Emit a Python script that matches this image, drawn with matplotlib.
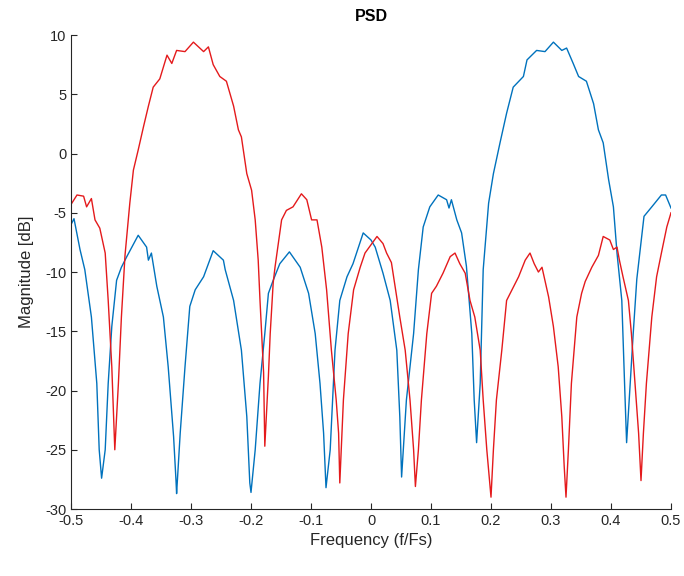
import matplotlib
matplotlib.use("Agg")
import matplotlib.pyplot as plt

# values (frequency f/Fs, magnitude dB)
blue_f = [-0.5, -0.495, -0.485, -0.477, -0.466, -0.457, -0.453, -0.449, -0.443, -0.438,
          -0.432, -0.424, -0.416, -0.407, -0.388, -0.374, -0.371, -0.366, -0.357, -0.346,
          -0.338, -0.329, -0.325, -0.324, -0.318, -0.31, -0.302, -0.293, -0.279, -0.263,
          -0.246, -0.243, -0.229, -0.216, -0.207, -0.202, -0.2, -0.193, -0.185, -0.177,
          -0.171, -0.163, -0.152, -0.136, -0.118, -0.104, -0.093, -0.085, -0.079, -0.075,
          -0.068, -0.06, -0.052, -0.04, -0.03, -0.013, 0.0, 0.007, 0.02, 0.032,
          0.043, 0.048, 0.051, 0.059, 0.071, 0.079, 0.087, 0.098, 0.112, 0.126,
          0.13, 0.134, 0.143, 0.151, 0.159, 0.168, 0.172, 0.176, 0.182, 0.187,
          0.196, 0.204, 0.215, 0.226, 0.237, 0.254, 0.26, 0.276, 0.29, 0.304,
          0.318, 0.326, 0.337, 0.346, 0.359, 0.371, 0.379, 0.387, 0.396, 0.404,
          0.41, 0.418, 0.423, 0.426, 0.432, 0.437, 0.443, 0.455, 0.468, 0.484,
          0.491, 0.5]
blue_db = [-6.0, -5.5, -8.1, -9.8, -13.8, -19.4, -25.0, -27.4, -25.0, -19.4,
           -14.6, -10.7, -9.6, -8.7, -6.9, -7.9, -9.0, -8.4, -11.2, -13.8,
           -18.0, -23.9, -27.6, -28.7, -23.6, -18.0, -12.9, -11.5, -10.4, -8.2,
           -9.0, -9.8, -12.4, -16.6, -22.2, -27.8, -28.6, -25.0, -19.4, -15.2,
           -11.8, -10.7, -9.3, -8.3, -9.6, -11.8, -15.2, -19.4, -23.6, -28.2,
           -25.0, -16.6, -12.4, -10.4, -9.3, -6.7, -7.3, -7.9, -10.1, -12.4,
           -16.6, -22.2, -27.3, -20.8, -15.2, -9.8, -6.2, -4.5, -3.5, -3.9,
           -4.6, -3.9, -5.6, -6.7, -9.5, -15.2, -20.8, -24.4, -19.4, -9.8,
           -4.2, -1.7, 0.9, 3.4, 5.6, 6.5, 7.9, 8.7, 8.6, 9.4,
           8.7, 8.9, 7.6, 6.5, 6.1, 4.2, 2.0, 0.9, -2.2, -4.5,
           -8.4, -12.4, -20.0, -24.4, -19.4, -15.2, -10.6, -5.3, -4.5, -3.5,
           -3.5, -4.6]

red_f = [-0.5, -0.49, -0.479, -0.474, -0.466, -0.46, -0.452, -0.443, -0.438, -0.432,
         -0.427, -0.421, -0.416, -0.41, -0.402, -0.396, -0.388, -0.379, -0.371, -0.363,
         -0.352, -0.34, -0.332, -0.324, -0.31, -0.296, -0.279, -0.271, -0.263, -0.252,
         -0.241, -0.229, -0.221, -0.216, -0.207, -0.199, -0.193, -0.188, -0.185, -0.179,
         -0.177, -0.171, -0.168, -0.163, -0.16, -0.149, -0.141, -0.13, -0.116, -0.107,
         -0.099, -0.09, -0.082, -0.074, -0.066, -0.058, -0.054, -0.052, -0.046, -0.038,
         -0.029, -0.018, -0.01, 0.01, 0.02, 0.026, 0.034, 0.048, 0.057, 0.065,
         0.071, 0.074, 0.079, 0.084, 0.093, 0.101, 0.109, 0.12, 0.132, 0.14,
         0.148, 0.157, 0.165, 0.173, 0.182, 0.187, 0.193, 0.198, 0.2, 0.204,
         0.209, 0.218, 0.226, 0.235, 0.246, 0.257, 0.265, 0.272, 0.279, 0.285,
         0.296, 0.304, 0.312, 0.318, 0.322, 0.325, 0.329, 0.334, 0.343, 0.351,
         0.357, 0.368, 0.379, 0.387, 0.398, 0.404, 0.41, 0.414, 0.42, 0.429,
         0.434, 0.44, 0.446, 0.45, 0.454, 0.459, 0.468, 0.476, 0.484, 0.493,
         0.5]
red_db = [-4.3, -3.5, -3.6, -4.5, -3.8, -5.6, -6.3, -8.4, -12.4, -18.0,
          -25.0, -19.4, -13.8, -8.6, -4.2, -1.4, 0.3, 2.3, 4.0, 5.6,
          6.3, 8.3, 7.6, 8.7, 8.6, 9.4, 8.6, 9.0, 7.5, 6.5,
          6.1, 4.0, 2.0, 1.4, -1.7, -3.1, -5.6, -9.0, -12.4, -18.5,
          -24.7, -18.8, -15.2, -10.9, -9.6, -5.6, -4.8, -4.5, -3.4, -3.9,
          -5.6, -5.6, -7.9, -11.5, -16.6, -20.8, -23.6, -27.8, -20.8, -15.2,
          -11.5, -9.6, -8.4, -7.0, -7.6, -8.4, -9.2, -13.8, -16.6, -20.8,
          -25.0, -28.1, -25.0, -20.8, -15.2, -11.8, -11.2, -10.1, -8.7, -8.4,
          -9.3, -10.1, -12.4, -13.8, -16.6, -20.8, -25.0, -27.8, -29.0, -25.0,
          -20.8, -16.6, -12.4, -11.5, -10.4, -9.0, -8.4, -9.3, -10.0, -9.6,
          -12.1, -14.6, -18.0, -22.2, -26.4, -29.0, -25.0, -19.4, -13.8, -11.8,
          -10.8, -9.6, -8.6, -7.0, -7.3, -8.1, -7.9, -9.0, -10.4, -12.4,
          -15.2, -19.4, -23.6, -27.6, -23.6, -19.4, -13.8, -10.4, -8.4, -6.2,
          -5.0]

xticks = [-0.5, -0.4, -0.3, -0.2, -0.1, 0, 0.1, 0.2, 0.3, 0.4, 0.5]
xticklabels = ["-0.5", "-0.4", "-0.3", "-0.2", "-0.1", "0", "0.1", "0.2", "0.3", "0.4", "0.5"]
yticks = [-30, -25, -20, -15, -10, -5, 0, 5, 10]

plt.rcParams['font.family'] = ['Liberation Sans', 'DejaVu Sans']
plt.rcParams['axes.unicode_minus'] = False
axcol = '#262626'

fig = plt.figure(figsize=(6.84, 5.76), dpi=100)
ax = fig.add_axes([0.1038, 0.1163, 0.8772, 0.8229])

ax.plot(blue_f, blue_db, color='#0072BD', lw=1.0)
ax.plot(red_f, red_db, color='#E41A1C', lw=1.0)

ax.set_xlim(-0.5, 0.5)
ax.set_ylim(-30, 10)
ax.set_xticks(xticks)
ax.set_xticklabels(xticklabels)
ax.set_yticks(yticks)
ax.spines['top'].set_visible(False)
ax.spines['right'].set_visible(False)
for s in ('left', 'bottom'):
    ax.spines[s].set_color(axcol)
    ax.spines[s].set_linewidth(0.8)
ax.tick_params(direction='in', length=4, width=0.8, colors=axcol, labelsize=10.5)

ax.set_title('PSD', fontsize=11.5, fontweight='bold', color='black', pad=10)
ax.set_xlabel('Frequency (f/Fs)', fontsize=12, color=axcol, labelpad=4)
ax.set_ylabel('Magnitude [dB]', fontsize=12, color=axcol, labelpad=8)

fig.savefig('out.png', dpi=100)
